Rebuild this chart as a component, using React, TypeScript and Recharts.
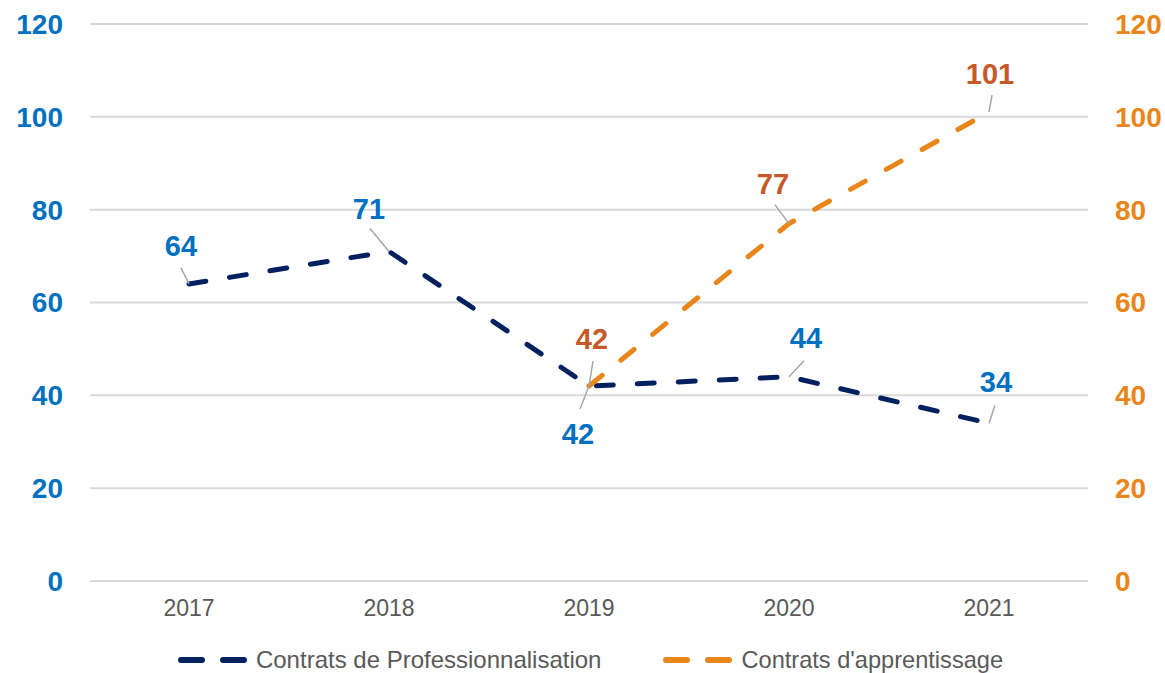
import { CartesianGrid, Legend, Line, LineChart, XAxis, YAxis } from "recharts"

const years = ["2017", "2018", "2019", "2020", "2021"]
const proValues = [64, 71, 42, 44, 34]
const appValues = [null, null, 42, 77, 101]
const axisTicks = [0, 20, 40, 60, 80, 100, 120]

const PRO_NAME = "Contrats de Professionnalisation"
const APP_NAME = "Contrats d'apprentissage"

const data = years.map((year, i) => ({
	year,
	pro: proValues[i],
	app: appValues[i]
}))

const NAVY = "#002060"
const ORANGE = "#E8861A"
const BLUE = "#0070C0"
const BROWN = "#C55A28"
const FONT = "'Liberation Sans', Arial, sans-serif"

// [text dx, text dy, leader dx, leader dy] relative to the point
const proLabelPos = [
	[-8, -38, -8, -16],
	[-20, -42, -19, -23],
	[-11, 48, -9, 23],
	[17, -39, 15, -16],
	[7, -41, 6, -18]
]
const appLabelPos = [
	[0, 0, 0, 0],
	[0, 0, 0, 0],
	[3, -47, 4, -25],
	[-16, -40, -14, -19],
	[1, -38, 3, -17]
]

const makeLabel = (pos: number[][], color: string) => (props: any) => {
	const { x, y, value, index } = props
	if (value == null) return null
	const [tx, ty, lx, ly] = pos[index]
	return (
		<g>
			<line x1={x} y1={y} x2={x + lx} y2={y + ly} stroke="#a6a6a6" strokeWidth={1.5} />
			<text
				x={x + tx}
				y={y + ty}
				textAnchor="middle"
				dominantBaseline="central"
				fill={color}
				fontSize={29}
				fontWeight="bold"
				fontFamily={FONT}
			>
				{value}
			</text>
		</g>
	)
}

const LegendIcon = ({ color }: { color: string }) => (
	<svg width={70} height={10} style={{ marginRight: 8 }}>
		<line
			x1={3}
			y1={5}
			x2={67}
			y2={5}
			stroke={color}
			strokeWidth={6}
			strokeLinecap="round"
			strokeDasharray="21 21"
		/>
	</svg>
)

const renderLegend = () => (
	<div
		style={{
			display: "flex",
			justifyContent: "center",
			alignItems: "center",
			height: 52,
			paddingTop: 26,
			paddingLeft: 16,
			boxSizing: "border-box",
			fontFamily: FONT,
			fontSize: 24,
			color: "#595959"
		}}
	>
		<div style={{ display: "flex", alignItems: "center", marginRight: 62 }}>
			<LegendIcon color={NAVY} />
			<span>{PRO_NAME}</span>
		</div>
		<div style={{ display: "flex", alignItems: "center" }}>
			<LegendIcon color={ORANGE} />
			<span style={{ fontSize: 23.6 }}>{APP_NAME}</span>
		</div>
	</div>
)

export default function App() {
	return (
		<div style={{ position: "absolute", left: 0, top: 0, background: "#fff" }}>
			<LineChart
				width={1165}
				height={673}
				data={data}
				margin={{ top: 24, right: 0, left: 0, bottom: 0 }}
			>
				<CartesianGrid yAxisId="left" vertical={false} stroke="#d9d9d9" strokeWidth={2} />
				<XAxis
					dataKey="year"
					height={40}
					padding={{ left: 99, right: 99 }}
					axisLine={{ stroke: "#d9d9d9", strokeWidth: 2 }}
					tickLine={false}
					tickMargin={13}
					tick={{ fill: "#595959", fontSize: 23, fontFamily: FONT }}
				/>
				<YAxis
					yAxisId="left"
					width={90}
					domain={[0, 120]}
					ticks={axisTicks}
					axisLine={false}
					tickLine={false}
					tickMargin={21}
					tick={{ fill: BLUE, fontSize: 28, fontWeight: "bold", fontFamily: FONT }}
				/>
				<YAxis
					yAxisId="right"
					orientation="right"
					width={77}
					domain={[0, 120]}
					ticks={axisTicks}
					axisLine={false}
					tickLine={false}
					tickMargin={21}
					tick={{
						fill: ORANGE,
						fontSize: 28,
						fontWeight: "bold",
						fontFamily: FONT,
						textAnchor: "start"
					}}
				/>
				<Legend verticalAlign="bottom" content={renderLegend} />
				<Line
					yAxisId="left"
					dataKey="pro"
					name={PRO_NAME}
					type="linear"
					stroke={NAVY}
					strokeWidth={5}
					strokeLinecap="round"
					strokeDasharray="17 24"
					dot={false}
					activeDot={false}
					isAnimationActive={false}
					label={makeLabel(proLabelPos, BLUE)}
				/>
				<Line
					yAxisId="right"
					dataKey="app"
					name={APP_NAME}
					type="linear"
					stroke={ORANGE}
					strokeWidth={5}
					strokeLinecap="round"
					strokeDasharray="17 24"
					dot={false}
					activeDot={false}
					isAnimationActive={false}
					label={makeLabel(appLabelPos, BROWN)}
				/>
			</LineChart>
		</div>
	)
}
